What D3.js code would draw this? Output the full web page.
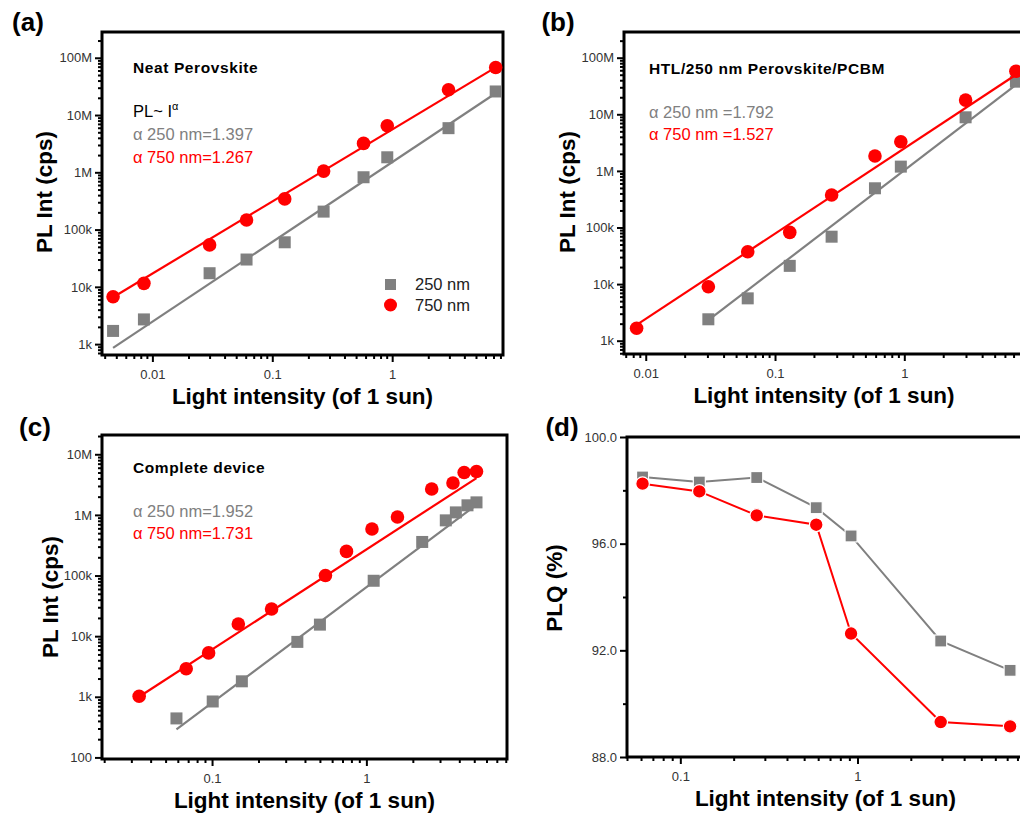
<!DOCTYPE html>
<html>
<head>
<meta charset="utf-8">
<script src="https://cdn.jsdelivr.net/npm/d3@7"></script>
<style>
  html, body { margin: 0; padding: 0; background: #fff; }
  svg { display: block; }
  .tick text { font-family: "Liberation Sans", Arial, sans-serif; font-size: 13px; fill: #333; }
  .tick line { stroke: #000; stroke-width: 2; }
</style>
</head>
<body>
<div id="chart"></div>
<script>
// ---- data ----
// (a) Neat Perovskite
const aX = [0.0047, 0.0085, 0.030, 0.061, 0.127, 0.268, 0.577, 0.91, 2.95, 7.3];
const aGray = [1.7e3, 2.7e3, 17.3e3, 30e3, 60e3, 206e3, 820e3, 1.83e6, 5.9e6, 25.8e6];
const aRed = [6.7e3, 11.5e3, 54e3, 147e3, 343e3, 1.05e6, 3.2e6, 6.5e6, 27.6e6, 67.6e6];
const aFitGray = [[0.0047, 860], [7.3, 24e6]];
const aFitRed = [[0.0047, 6.6e3], [7.3, 68e6]];

// (b) HTL/250 nm Perovskite/PCBM
const bXRed = [0.0085, 0.0305, 0.0615, 0.13, 0.274, 0.593, 0.94, 2.98, 7.3];
const bRed = [1.66e3, 9e3, 37.3e3, 82e3, 375e3, 1.83e6, 3.28e6, 17.8e6, 57.5e6];
const bXGray = [0.0305, 0.0615, 0.13, 0.274, 0.593, 0.94, 2.98, 7.3];
const bGray = [2.39e3, 5.6e3, 21e3, 68.8e3, 493e3, 1.19e6, 8.85e6, 37.7e6];
const bFitGray = [[0.0305, 2.3e3], [7.3, 33e6]];
const bFitRed = [[0.0085, 1.9e3], [7.3, 50e6]];

// (c) Complete device
const cXRed = [0.0337, 0.068, 0.095, 0.148, 0.243, 0.543, 0.743, 1.087, 1.59, 2.65, 3.64, 4.3, 5.17];
const cRed = [1.02e3, 2.9e3, 5.3e3, 15.9e3, 28e3, 100e3, 250e3, 586e3, 923e3, 2.67e6, 3.36e6, 5.0e6, 5.2e6];
const cXGray = [0.0588, 0.101, 0.156, 0.357, 0.5, 1.115, 2.3, 3.27, 3.8, 4.52, 5.17];
const cGray = [440, 837, 1.8e3, 8.05e3, 15.5e3, 82e3, 358e3, 813e3, 1.1e6, 1.44e6, 1.61e6];
const cFitGray = [[0.0588, 290], [5.17, 1.47e6]];
const cFitRed = [[0.0337, 1.0e3], [5.17, 4.05e6]];

// (d) PLQ
const dX = [0.0612, 0.128, 0.27, 0.585, 0.92, 2.95, 7.27];
const dGray = [98.5, 98.31, 98.48, 97.35, 96.29, 92.35, 91.25];
const dRed = [98.25, 97.96, 97.06, 96.71, 92.63, 89.31, 89.15];

// tick labels
const logTicks = [1e2, 1e3, 1e4, 1e5, 1e6, 1e7, 1e8];
const logTickLabels = ['100', '1k', '10k', '100k', '1M', '10M', '100M'];
const xTicks = [0.01, 0.1, 1];
const xTickLabels = ['0.01', '0.1', '1'];
const plqTicks = [88, 92, 96, 100];
const plqTickLabels = ['88.0', '92.0', '96.0', '100.0'];
const plqMinor = [90, 94, 98];

const GRAY = '#808080';
const RED = '#ff0000';
const FONT = '"Liberation Sans", Arial, sans-serif';

const W = 1020, H = 816;
const svg = d3.select('#chart').append('svg')
  .attr('width', W)
  .attr('height', H)
  .attr('font-family', FONT);

function logMinor(domain) {
  const out = [];
  const lo = Math.floor(Math.log10(domain[0])), hi = Math.ceil(Math.log10(domain[1]));
  for (let k = lo; k <= hi; k++) {
    for (let m = 2; m <= 9; m++) {
      const v = m * Math.pow(10, k);
      if (v >= domain[0] && v <= domain[1]) out.push(v);
    }
  }
  return out;
}

function panel(o) {
  const g = svg.append('g');
  const x = d3.scaleLog().domain(o.xDomain).range([o.l, o.r]);
  const y = (o.yLog ? d3.scaleLog() : d3.scaleLinear()).domain(o.yDomain).range([o.b, o.t]);

  // minor ticks
  g.append('g')
    .attr('transform', `translate(0,${o.b})`)
    .call(d3.axisBottom(x).tickValues(logMinor(o.xDomain)).tickSize(4).tickSizeOuter(0).tickFormat(''))
    .call(s => s.select('.domain').remove());
  g.append('g')
    .attr('transform', `translate(${o.l},0)`)
    .call(d3.axisLeft(y).tickValues(o.yLog ? logMinor(o.yDomain) : o.yMinor).tickSize(4).tickSizeOuter(0).tickFormat(''))
    .call(s => s.select('.domain').remove());

  // major ticks
  const xt = xTicks.filter(v => v >= o.xDomain[0] && v <= o.xDomain[1]);
  g.append('g')
    .attr('transform', `translate(0,${o.b})`)
    .call(d3.axisBottom(x).tickValues(xt).tickSize(7).tickSizeOuter(0)
      .tickFormat(d => xTickLabels[xTicks.indexOf(d)]))
    .call(s => s.select('.domain').remove())
    .call(s => s.selectAll('text').attr('dy', '1.05em'));
  const yt = o.yTicks.filter(v => v >= o.yDomain[0] && v <= o.yDomain[1]);
  g.append('g')
    .attr('transform', `translate(${o.l},0)`)
    .call(d3.axisLeft(y).tickValues(yt).tickSize(7).tickSizeOuter(0)
      .tickFormat(d => o.yLabels[o.yTicks.indexOf(d)]))
    .call(s => s.select('.domain').remove())
    .call(s => s.selectAll('text').attr('x', -10));

  // frame
  g.append('rect')
    .attr('x', o.l).attr('y', o.t)
    .attr('width', o.r - o.l).attr('height', o.b - o.t)
    .attr('fill', 'none').attr('stroke', '#000').attr('stroke-width', 3);

  const line = d3.line().x(d => x(d[0])).y(d => y(d[1]));

  // series
  o.series.forEach(s => {
    const pts = s.x.map((v, i) => [v, s.y[i]]);
    if (s.connect) {
      g.append('path').attr('d', line(pts))
        .attr('fill', 'none').attr('stroke', s.color).attr('stroke-width', 2);
    }
    if (s.fit) {
      g.append('path').attr('d', line(s.fit))
        .attr('fill', 'none').attr('stroke', s.color).attr('stroke-width', 2.2);
    }
    const ms = g.append('g');
    if (s.shape === 'square') {
      ms.selectAll('rect').data(pts).join('rect')
        .attr('x', d => x(d[0]) - 6).attr('y', d => y(d[1]) - 6)
        .attr('width', 12).attr('height', 12)
        .attr('fill', s.color)
        .attr('stroke', s.connect ? '#fff' : 'none').attr('stroke-width', 1.2);
    } else {
      ms.selectAll('circle').data(pts).join('circle')
        .attr('cx', d => x(d[0])).attr('cy', d => y(d[1])).attr('r', 6.8)
        .attr('fill', s.color)
        .attr('stroke', s.connect ? '#fff' : 'none').attr('stroke-width', 1.2);
    }
  });

  // axis titles
  g.append('text')
    .attr('x', (o.l + o.r) / 2).attr('y', o.b + 49)
    .attr('text-anchor', 'middle')
    .attr('font-size', 22.5).attr('font-weight', 'bold')
    .text('Light intensity (of 1 sun)');
  g.append('text')
    .attr('transform', `translate(${o.ytx},${o.yty}) rotate(-90)`)
    .attr('text-anchor', 'middle').attr('dy', '0.36em')
    .attr('font-size', 22.5).attr('font-weight', 'bold')
    .text(o.yTitle);

  // panel label
  g.append('text')
    .attr('x', o.lx).attr('y', o.ly)
    .attr('text-anchor', 'middle')
    .attr('font-size', 26).attr('font-weight', 'bold')
    .text(o.label);

  return { g, x, y };
}

function note(g, x, y, txt, color, bold) {
  return g.append('text').attr('x', x).attr('y', y)
    .attr('font-size', bold ? 15.5 : 16.5)
    .attr('font-weight', bold ? 'bold' : 'normal')
    .attr('letter-spacing', bold ? 0.6 : 0)
    .attr('fill', color).text(txt);
}

// (a)
const pa = panel({
  l: 102, r: 503, t: 32, b: 355,
  xDomain: [0.0038, 8.4], yDomain: [Math.pow(10, 2.81), Math.pow(10, 8.45)], yLog: true,
  yTicks: logTicks, yLabels: logTickLabels, yTitle: 'PL Int (cps)', ytx: 44, yty: 192,
  label: '(a)', lx: 28, ly: 31,
  series: [
    { x: aX, y: aGray, color: GRAY, shape: 'square', fit: aFitGray },
    { x: aX, y: aRed, color: RED, shape: 'circle', fit: aFitRed }
  ]
});
note(pa.g, 133, 73, 'Neat Perovskite', '#000', true);
const plI = note(pa.g, 133, 117, 'PL~ I', '#000', false);
plI.append('tspan').attr('dy', -7).attr('font-size', 11).text('α');
note(pa.g, 133, 140, 'α 250 nm=1.397', GRAY, false);
note(pa.g, 133, 163, 'α 750 nm=1.267', RED, false);
// legend
pa.g.append('rect').attr('x', 385).attr('y', 279).attr('width', 11).attr('height', 11).attr('fill', GRAY);
pa.g.append('circle').attr('cx', 390.5).attr('cy', 305).attr('r', 6.5).attr('fill', RED);
note(pa.g, 415, 290, '250 nm', '#222', false);
note(pa.g, 415, 311, '750 nm', '#222', false);

// (b)
const pb = panel({
  l: 624, r: 1024, t: 32, b: 354,
  xDomain: [0.00679, 8.43], yDomain: [Math.pow(10, 2.765), Math.pow(10, 8.454)], yLog: true,
  yTicks: logTicks, yLabels: logTickLabels, yTitle: 'PL Int (cps)', ytx: 567, yty: 192,
  label: '(b)', lx: 558, ly: 31,
  series: [
    { x: bXGray, y: bGray, color: GRAY, shape: 'square', fit: bFitGray },
    { x: bXRed, y: bRed, color: RED, shape: 'circle', fit: bFitRed }
  ]
});
note(pb.g, 649, 74, 'HTL/250 nm Perovskite/PCBM', '#000', true);
note(pb.g, 649, 118, 'α 250 nm =1.792', GRAY, false);
note(pb.g, 649, 140, 'α 750 nm =1.527', RED, false);

// (c)
const pc = panel({
  l: 102, r: 507, t: 435, b: 759,
  xDomain: [0.01936, 8.15], yDomain: [Math.pow(10, 1.974), Math.pow(10, 7.318)], yLog: true,
  yTicks: logTicks, yLabels: logTickLabels, yTitle: 'PL Int (cps)', ytx: 50, yty: 597,
  label: '(c)', lx: 35, ly: 436,
  series: [
    { x: cXGray, y: cGray, color: GRAY, shape: 'square', fit: cFitGray },
    { x: cXRed, y: cRed, color: RED, shape: 'circle', fit: cFitRed }
  ]
});
note(pc.g, 133, 473, 'Complete device', '#000', true);
note(pc.g, 133, 517, 'α 250 nm=1.952', GRAY, false);
note(pc.g, 133, 539, 'α 750 nm=1.731', RED, false);

// (d)
panel({
  l: 627, r: 1024, t: 437, b: 757,
  xDomain: [0.05, 8.71], yDomain: [88, 100], yLog: false, yMinor: plqMinor,
  yTicks: plqTicks, yLabels: plqTickLabels, yTitle: 'PLQ (%)', ytx: 554, yty: 588,
  label: '(d)', lx: 562, ly: 436,
  series: [
    { x: dX, y: dGray, color: GRAY, shape: 'square', connect: true },
    { x: dX, y: dRed, color: RED, shape: 'circle', connect: true }
  ]
});
</script>
</body>
</html>
